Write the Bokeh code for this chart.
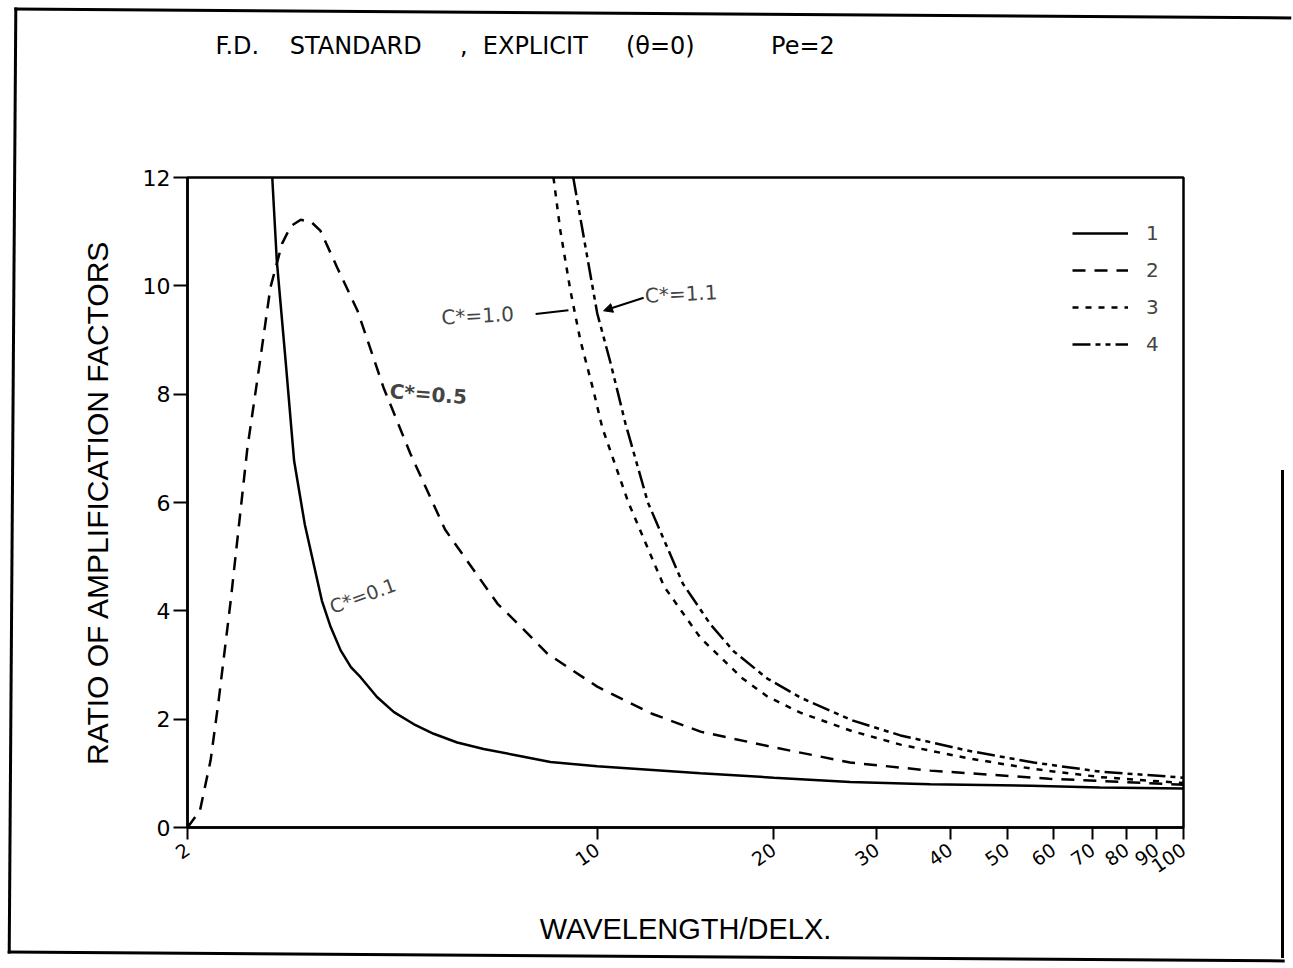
from bokeh.plotting import figure
from bokeh.models import (Range1d, FixedTicker, Legend, LegendItem, Label,
                          Arrow, NormalHead, Title, InlineStyleSheet)
from bokeh.embed import file_html
from bokeh.resources import INLINE

# ---------------- data ----------------
c1_x = [2.79, 2.84, 2.94, 3.04, 3.17, 3.39, 3.51, 3.65, 3.80, 3.95, 4.21, 4.50, 4.86, 5.26, 5.77, 6.40, 7.30, 8.32, 10, 15, 20, 27, 37, 55, 72, 100]
c1_y = [12, 10.47, 8.62, 6.77, 5.6, 4.19, 3.70, 3.27, 2.96, 2.77, 2.41, 2.13, 1.91, 1.73, 1.57, 1.45, 1.33, 1.21, 1.13, 1.0, 0.92, 0.84, 0.80, 0.77, 0.74, 0.72]

c2_x = [2.0, 2.10, 2.19, 2.26, 2.37, 2.53, 2.66, 2.77, 2.90, 3.0, 3.12, 3.25, 3.37, 3.60, 3.90, 4.32, 4.80, 5.5, 6.76, 7.31, 8.22, 10, 12.4, 15, 20, 27, 37, 59, 100]
c2_y = [0, 0.31, 1.24, 2.34, 4.19, 7.0, 8.62, 9.97, 10.78, 11.1, 11.22, 11.18, 11.02, 10.34, 9.54, 8.12, 6.90, 5.5, 4.13, 3.77, 3.21, 2.60, 2.1, 1.77, 1.48, 1.2, 1.05, 0.9, 0.79]

c3_x = [8.42, 8.65, 9.0, 9.36, 9.85, 10.2, 11.3, 13.0, 15.0, 17.7, 19.5, 22.2, 27.2, 32.9, 42.8, 55.5, 72.2, 100]
c3_y = [12, 11.02, 9.91, 8.99, 8.07, 7.38, 6.0, 4.45, 3.5, 2.75, 2.42, 2.12, 1.78, 1.53, 1.28, 1.08, 0.93, 0.82]

c4_x = [9.1, 9.44, 10.0, 10.54, 11.17, 12.2, 14.0, 15.6, 17.1, 19.5, 22.2, 27.2, 32.9, 42.8, 55.5, 72.2, 100]
c4_y = [12, 11.02, 9.49, 8.57, 7.46, 6.0, 4.5, 3.75, 3.25, 2.75, 2.40, 1.98, 1.70, 1.42, 1.20, 1.03, 0.92]

series_names = ["1", "2", "3", "4"]
x_ticks = [2, 10, 20, 30, 40, 50, 60, 70, 80, 90, 100]
x_tick_labels = ["2", "10", "20", "30", "40", "50", "60", "70", "80", "90", "100"]
y_ticks = [0, 2, 4, 6, 8, 10, 12]

NB = "\u00a0"
title_text = ("F.D." + NB * 4 + "STANDARD" + NB * 5 + "," + NB * 2 + "EXPLICIT" + NB * 5
              + "(\u03b8=0)" + NB * 10 + "Pe=2")
x_label = "WAVELENGTH/DELX."
y_label = "RATIO OF AMPLIFICATION FACTORS"
curve_notes = ["C*=0.1", "C*=0.5", "C*=1.0", "C*=1.1"]

# ---------------- figure ----------------
W, H = 1293, 968
FL, FR, FT, FB = 187, 1183, 177, 827   # frame edges (canvas px)

# scanned page border drawn as a CSS overlay on the figure element
border_css = InlineStyleSheet(css="""
:host::before {
  content: ""; position: absolute; left: 11px; top: 12px; width: 1277px; height: 946px;
  box-sizing: border-box; border-left: 3px solid black; border-top: 3px solid black;
  border-bottom: 3px solid black; transform: rotate(0.4deg);
  pointer-events: none; z-index: 100;
}
:host::after {
  content: ""; position: absolute; left: 1281px; top: 470px; width: 3px; height: 488px;
  background: black; pointer-events: none; z-index: 100;
}
""")

p = figure(width=W, height=H, x_axis_type="log",
           x_range=Range1d(2, 100), y_range=Range1d(0, 12),
           output_backend="svg", toolbar_location=None,
           min_border_left=FL, min_border_right=W - FR,
           min_border_top=FT, min_border_bottom=H - FB,
           title=title_text)
p.stylesheets = [border_css]
p.background_fill_color = "white"
p.border_fill_color = "white"
p.grid.visible = False
p.outline_line_color = "black"
p.outline_line_width = 2.5

p.title.text_font = "DejaVu Sans"
p.title.text_font_size = "24px"
p.title.text_font_style = "normal"
p.title.text_color = "black"
p.title.align = "left"
p.title.offset = 28
p.title.standoff = 0
# invisible spacer that lifts the title towards the top of the page
p.add_layout(Title(text=NB, text_font_size="1px", standoff=115), "above")

FONT = "Liberation Sans"
for ax in (p.xaxis[0], p.yaxis[0]):
    ax.axis_line_color = "black"
    ax.axis_line_width = 2.5
    ax.major_tick_line_color = "black"
    ax.major_tick_line_width = 2
    ax.minor_tick_line_color = None
    ax.major_tick_in = 0
    ax.major_label_text_color = "black"
    ax.axis_label_text_font = FONT
    ax.axis_label_text_font_style = "normal"
    ax.axis_label_text_color = "black"

p.xaxis.ticker = FixedTicker(ticks=x_ticks)
p.xaxis.major_label_overrides = {t: s for t, s in zip(x_ticks, x_tick_labels)}
p.xaxis.major_label_orientation = 0.6
p.xaxis.major_tick_out = 12
p.xaxis.major_label_text_font = "DejaVu Sans"
p.xaxis.major_label_text_font_size = "19px"
p.xaxis.major_label_standoff = 8
p.xaxis.axis_label = x_label
p.xaxis.axis_label_text_font_size = "29px"
p.xaxis.axis_label_standoff = 30

p.yaxis.ticker = FixedTicker(ticks=y_ticks)
p.yaxis.major_tick_out = 14
p.yaxis.major_label_text_font = "DejaVu Sans"
p.yaxis.major_label_text_font_size = "22px"
p.yaxis.major_label_standoff = 3
p.yaxis.axis_label = y_label
p.yaxis.axis_label_text_font_size = "30px"
p.yaxis.axis_label_standoff = 26

# ---------------- curves ----------------
LW = 2.5
r1 = p.line(c1_x, c1_y, line_color="black", line_width=LW)
r2 = p.line(c2_x, c2_y, line_color="black", line_width=LW, line_dash="13 9")
r3 = p.line(c3_x, c3_y, line_color="black", line_width=LW, line_dash="6 7")
r4 = p.line(c4_x, c4_y, line_color="black", line_width=LW, line_dash="18 5 5 5 5 5")

legend = Legend(items=[LegendItem(label=n, renderers=[r]) for n, r in zip(series_names, [r1, r2, r3, r4])],
                location=(885, 471), orientation="vertical",
                border_line_color=None, background_fill_alpha=0,
                padding=0, margin=0, spacing=13,
                glyph_width=56, glyph_height=20, label_height=20,
                label_standoff=18, label_text_font="DejaVu Sans",
                label_text_font_size="20px")
p.add_layout(legend)

# ---------------- handwritten notes ----------------
NOTE_FONT = "DejaVu Sans"
p.add_layout(Label(x=3.98, y=4.28, text=curve_notes[0], angle=0.35,
                   text_font=NOTE_FONT, text_font_size="19px",
                   text_align="center", text_baseline="middle"))
p.add_layout(Label(x=5.15, y=8.0, text=curve_notes[1], angle=-0.08,
                   text_font=NOTE_FONT, text_font_size="20px", text_font_style="bold",
                   text_align="center", text_baseline="middle"))
p.add_layout(Label(x=6.25, y=9.45, text=curve_notes[2], angle=0.05,
                   text_font=NOTE_FONT, text_font_size="20px",
                   text_align="center", text_baseline="middle"))
p.add_layout(Label(x=13.9, y=9.85, text=curve_notes[3], angle=0.05,
                   text_font=NOTE_FONT, text_font_size="20px",
                   text_align="center", text_baseline="middle"))
p.segment(x0=[7.85], y0=[9.48], x1=[8.93], y1=[9.55], line_color="black", line_width=2)
p.add_layout(Arrow(x_start=12.0, y_start=9.78, x_end=10.25, y_end=9.54,
                   line_color="black", line_width=2,
                   end=NormalHead(size=9, fill_color="black", line_color="black")))

open("out.html", "w").write(file_html(p, INLINE))
